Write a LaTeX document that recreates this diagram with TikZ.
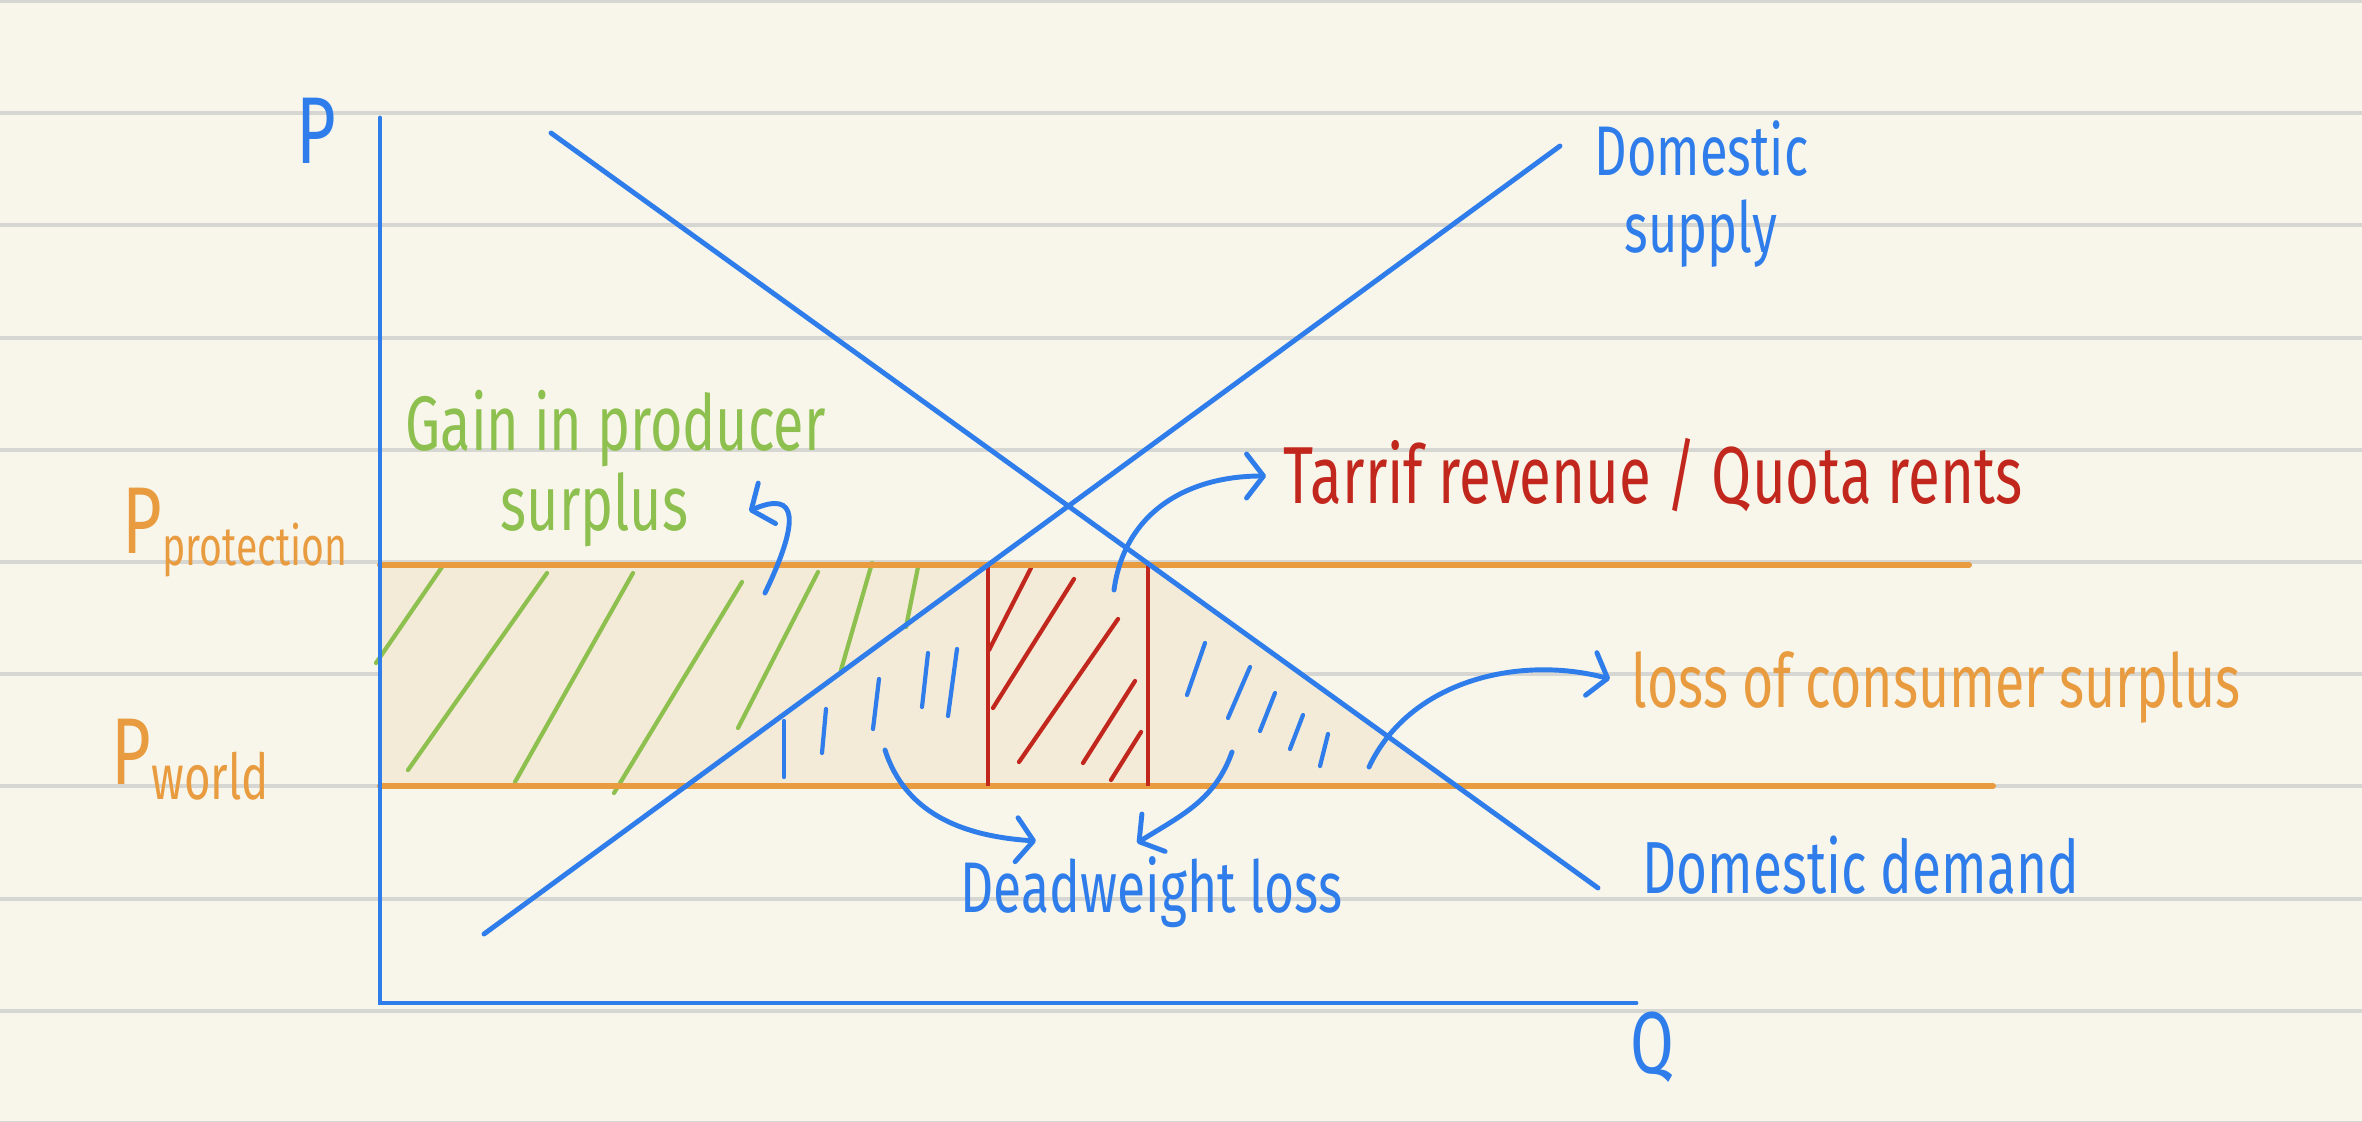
\documentclass[tikz,border=0pt]{standalone}
\usepackage{fontspec}
\setmainfont{Fira Sans}[FakeStretch=0.72]
\usetikzlibrary{arrows.meta}
\definecolor{paper}{HTML}{F8F6EB}
\definecolor{rulegray}{HTML}{D6D6D3}
\definecolor{shade}{HTML}{F3EAD8}
\definecolor{pblue}{HTML}{2F7DEA}
\definecolor{porange}{HTML}{E89B3F}
\definecolor{pgreen}{HTML}{8DC04E}
\definecolor{pred}{HTML}{C2271D}
\newcommand{\fs}[1]{\fontsize{#1}{#1}\selectfont}
\begin{document}
\begin{tikzpicture}[x=0.1mm,y=-0.1mm,
  notebook/.style={rulegray,line width=1.1pt},
  bluecurve/.style={pblue,line width=1.4pt,line cap=round},
  priceline/.style={porange,line width=1.7pt,line cap=round},
  redline/.style={pred,line width=1.2pt},
  greenhatch/.style={pgreen,line width=1.2pt,line cap=round},
  redhatch/.style={pred,line width=1.2pt,line cap=round},
  bluehatch/.style={pblue,line width=1.2pt,line cap=round},
  callout/.style={pblue,line width=1.4pt,line cap=round,
    -{Straight Barb[round,length=1.7mm,width=4.4mm]}},
  lbl/.style={inner sep=0pt,anchor=base west}
]
\useasboundingbox (0,0) rectangle (2362,1122);
\fill[paper] (0,0) rectangle (2362,1122);
% notebook rules
\foreach \k in {0,...,10}{
  \draw[notebook] (0,{1+112.2*\k}) -- (2362,{1+112.2*\k});
}
% key coordinates
\coordinate (O) at (380,1003);
\coordinate (Ytop) at (380,118);
\coordinate (Xend) at (1636,1003);
\coordinate (Dtop) at (551,133);
\coordinate (Dbot) at (1598,888);
\coordinate (Stop) at (1560,146);
\coordinate (Sbot) at (484,934);
\coordinate (PPl) at (380,565);
\coordinate (PPr) at (1969,565);
\coordinate (PWl) at (380,786);
\coordinate (PWr) at (1993,786);
\coordinate (RLt) at (988,565);
\coordinate (RLb) at (988,786);
\coordinate (RRt) at (1148,565);
\coordinate (RRb) at (1148,786);
\coordinate (Dp) at (1150,565);
\coordinate (Dw) at (1456,786);
% shaded area
\filldraw[fill=shade,draw=porange,line width=0.4pt] (PPl) -- (Dp) -- (Dw) -- (PWl) -- cycle;
% green hatching (gain in producer surplus)
\foreach \a/\b/\c/\d in {376/663/442/567, 408/770/547/573, 515/782/633/573,
  614/793/742/582, 738/728/818/572, 841/670/872/563, 906/627/918/567}{
  \draw[greenhatch] (\a,\b) -- (\c,\d);
}
% red hatching (tariff revenue)
\foreach \a/\b/\c/\d in {989/650/1031/568, 993/708/1074/579, 1019/762/1118/619,
  1083/763/1135/681, 1111/780/1141/732}{
  \draw[redhatch] (\a,\b) -- (\c,\d);
}
% blue dashes (deadweight loss)
\foreach \a/\b/\c/\d in {784/721/784/777, 826/709/822/753, 879/679/873/729,
  928/653/922/707, 957/649/948/716,
  1205/643/1187/695, 1250/667/1228/718, 1275/693/1260/731,
  1303/715/1290/749, 1328/734/1320/766}{
  \draw[bluehatch] (\a,\b) -- (\c,\d);
}
% price lines
\draw[priceline] (PPl) -- (PPr);
\draw[priceline] (PWl) -- (PWr);
% red boundaries
\draw[redline] (RLt) -- (RLb);
\draw[redline] (RRt) -- (RRb);
% axes and curves
\draw[bluecurve] (Ytop) -- (O) -- (Xend);
\draw[bluecurve] (Dtop) -- (Dbot);
\draw[bluecurve] (Sbot) -- (Stop);
% callout arrows
\coordinate (a1s) at (765,593);  \coordinate (a1e) at (749,511);
\coordinate (a2s) at (1114,590); \coordinate (a2e) at (1266,476);
\coordinate (a3s) at (1369,767); \coordinate (a3e) at (1610,679);
\coordinate (a4s) at (885,750);  \coordinate (a4e) at (1036,841);
\coordinate (a5s) at (1232,752); \coordinate (a5e) at (1137,843);
\draw[callout] (a1s) .. controls (800,520) and (798,490) .. (a1e);
\draw[callout] (a2s) .. controls (1125,510) and (1190,476) .. (a2e);
\draw[callout] (a3s) .. controls (1410,680) and (1520,655) .. (a3e);
\draw[callout] (a4s) .. controls (905,812) and (960,836) .. (a4e);
\draw[callout] (a5s) .. controls (1215,800) and (1182,815) .. (a5e);
% labels
\node[pblue,inner sep=0pt,font=\fs{27}] (P) at (316,131) {P};
\node[pblue,inner sep=0pt,font=\fs{25}] (Q) at (1652,1047) {Q};
\node[lbl,pblue,font=\fs{20}] (ds1) at (1594,176) {Domestic};
\node[lbl,pblue,font=\fs{20}] (ds2) at (1624,252) {supply};
\node[lbl,pgreen,font=\fs{22}] (gp1) at (405,450) {Gain in producer};
\node[lbl,pgreen,font=\fs{22}] (gp2) at (500,530) {surplus};
\node[lbl,porange,font=\fs{27}] (pprot) at (122,553) {P\raisebox{-0.25ex}{\fs{15.5}protection}};
\node[lbl,porange,font=\fs{27}] (pworld) at (111,784) {P\raisebox{-0.3ex}{\fs{18}world}};
\node[lbl,pred,font=\fs{23}] (tr) at (1283,503) {Tarrif revenue / Quota rents};
\node[lbl,porange,font=\fs{21.2}] (lcs) at (1631,707) {loss of consumer surplus};
\node[lbl,pblue,font=\fs{21}] (dd) at (1642,893) {Domestic demand};
\node[lbl,pblue,font=\fs{20.4}] (dwl) at (960,912) {Deadweight loss};
\end{tikzpicture}
\end{document}
